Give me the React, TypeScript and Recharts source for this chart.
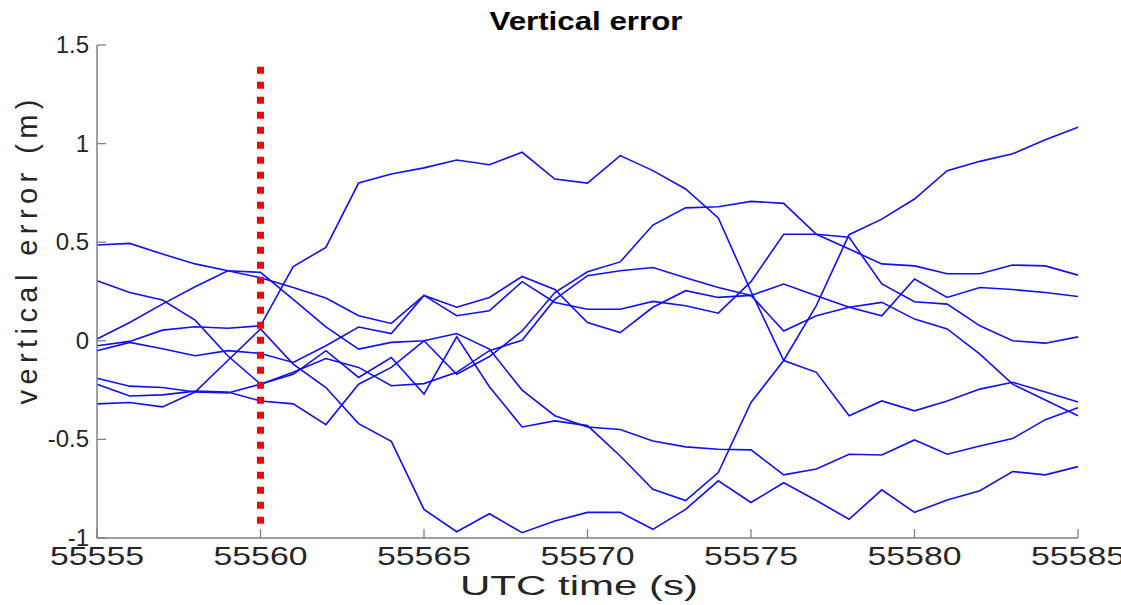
import React from 'react';
import { LineChart, Line, XAxis, YAxis, ReferenceLine } from 'recharts';

const times = [55555, 55556, 55557, 55558, 55559, 55560, 55561, 55562, 55563, 55564, 55565, 55566, 55567, 55568, 55569, 55570, 55571, 55572, 55573, 55574, 55575, 55576, 55577, 55578, 55579, 55580, 55581, 55582, 55583, 55584, 55585];

const s1 = [0.486, 0.494, 0.44, 0.39, 0.355, 0.32, 0.27, 0.217, 0.127, 0.088, 0.23, 0.17, 0.22, 0.326, 0.26, 0.093, 0.042, 0.17, 0.254, 0.22, 0.23, 0.05, 0.127, 0.17, 0.195, 0.11, 0.06, -0.068, -0.22, -0.3, -0.38];
const s2 = [0.305, 0.245, 0.207, 0.105, -0.076, -0.22, -0.17, -0.05, -0.186, -0.085, -0.27, 0.02, -0.233, -0.437, -0.406, -0.43, -0.584, -0.753, -0.81, -0.668, -0.313, -0.1, 0.18, 0.538, 0.617, 0.719, 0.863, 0.91, 0.948, 1.02, 1.083];
const s3 = [0.009, 0.093, 0.186, 0.274, 0.355, 0.347, 0.21, 0.071, -0.042, -0.008, 0.0, 0.037, -0.042, -0.25, -0.38, -0.437, -0.45, -0.508, -0.538, -0.55, -0.553, -0.68, -0.65, -0.575, -0.579, -0.503, -0.575, -0.533, -0.496, -0.4, -0.34];
const s4 = [-0.025, -0.003, 0.054, 0.071, 0.064, 0.076, 0.376, 0.474, 0.8, 0.846, 0.877, 0.917, 0.893, 0.956, 0.82, 0.8, 0.939, 0.863, 0.77, 0.623, 0.25, -0.1, -0.16, -0.38, -0.305, -0.355, -0.305, -0.245, -0.21, -0.26, -0.31];
const s5 = [-0.05, -0.008, -0.04, -0.076, -0.05, -0.064, -0.11, -0.025, 0.07, 0.037, 0.23, 0.127, 0.152, 0.3, 0.194, 0.16, 0.16, 0.2, 0.178, 0.14, 0.3, 0.54, 0.54, 0.525, 0.288, 0.198, 0.186, 0.076, 0.0, -0.012, 0.02];
const s6 = [-0.19, -0.23, -0.237, -0.26, -0.265, -0.22, -0.16, -0.09, -0.135, -0.228, -0.217, -0.16, -0.05, 0.003, 0.21, 0.33, 0.355, 0.372, 0.32, 0.27, 0.23, 0.288, 0.228, 0.17, 0.127, 0.313, 0.22, 0.27, 0.26, 0.245, 0.225];
const s7 = [-0.22, -0.28, -0.274, -0.255, -0.26, -0.305, -0.32, -0.425, -0.22, -0.135, 0.0, -0.17, -0.08, 0.05, 0.245, 0.35, 0.4, 0.587, 0.674, 0.68, 0.707, 0.697, 0.54, 0.465, 0.39, 0.38, 0.34, 0.34, 0.384, 0.38, 0.333];
const s8 = [-0.32, -0.313, -0.335, -0.26, -0.1, 0.06, -0.118, -0.237, -0.42, -0.51, -0.855, -0.968, -0.877, -0.973, -0.914, -0.87, -0.87, -0.956, -0.855, -0.71, -0.82, -0.72, -0.81, -0.905, -0.756, -0.87, -0.807, -0.76, -0.663, -0.68, -0.638];

const xTicks = [55555, 55560, 55565, 55570, 55575, 55580, 55585];
const xTickLabels = ['55555', '55560', '55565', '55570', '55575', '55580', '55585'];
const yTicks = [-1, -0.5, 0, 0.5, 1, 1.5];
const yTickLabels = ['-1', '-0.5', '0', '0.5', '1', '1.5'];

const markerTime = 55560;
const markerTop = 1.39;
const markerBottom = -0.94;

const titleText = 'Vertical error';
const xLabelText = 'UTC time (s)';
const yLabelText = 'vertical error (m)';

const seriesList = [s1, s2, s3, s4, s5, s6, s7, s8];
const data = times.map((t, i) => {
  const row: Record<string, number> = { t };
  seriesList.forEach((s, k) => {
    row['s' + k] = s[i];
  });
  return row;
});

const W = 1121;
const H = 605;
const PLOT_LEFT = 97;
const PLOT_RIGHT = 1078;
const PLOT_TOP = 45;
const PLOT_BOTTOM = 538;
const AXIS_W = 2;
const AXIS = '#808080';
const TEXT = '#262626';
const FONT = '"Liberation Sans", Arial, sans-serif';

const XTick = (props: any) => {
  const { x, payload } = props;
  const idx = xTicks.indexOf(payload.value);
  const label = idx >= 0 ? xTickLabels[idx] : String(payload.value);
  return (
    <g>
      <line x1={x} x2={x} y1={PLOT_BOTTOM} y2={PLOT_BOTTOM - 9} stroke={AXIS} strokeWidth={1.3} />
      <text x={x} y={565} textAnchor="middle" fontFamily={FONT} fontSize={25} fill={TEXT} textLength={94} lengthAdjust="spacingAndGlyphs">
        {label}
      </text>
    </g>
  );
};

const YTick = (props: any) => {
  const { y, payload } = props;
  const idx = yTicks.indexOf(payload.value);
  const label = idx >= 0 ? yTickLabels[idx] : String(payload.value);
  return (
    <g>
      <line x1={PLOT_LEFT} x2={PLOT_LEFT + 9} y1={y} y2={y} stroke={AXIS} strokeWidth={1.3} />
      <text x={89} y={y + 8} textAnchor="end" fontFamily={FONT} fontSize={24} fill={TEXT}>
        {label}
      </text>
    </g>
  );
};

export default function App() {
  return (
    <div style={{ position: 'absolute', left: 0, top: 0, width: W, height: H, background: '#fff' }}>
      <LineChart
        width={W}
        height={H}
        data={data}
        margin={{ top: PLOT_TOP, right: W - PLOT_RIGHT, bottom: H - PLOT_BOTTOM - AXIS_W, left: PLOT_LEFT - AXIS_W }}
      >
        <XAxis
          dataKey="t"
          type="number"
          domain={[55555, 55585]}
          ticks={xTicks}
          interval={0}
          height={AXIS_W}
          tick={<XTick />}
          tickLine={false}
          axisLine={{ stroke: AXIS, strokeWidth: 1.5 }}
        />
        <YAxis
          type="number"
          domain={[-1, 1.5]}
          ticks={yTicks}
          interval={0}
          width={AXIS_W}
          tick={<YTick />}
          tickLine={false}
          axisLine={{ stroke: AXIS, strokeWidth: 1.5 }}
        />
        {seriesList.map((_, k) => (
          <Line
            key={k}
            type="linear"
            dataKey={'s' + k}
            stroke="#1010f0"
            strokeWidth={1.6}
            dot={false}
            activeDot={false}
            isAnimationActive={false}
          />
        ))}
        <ReferenceLine
          segment={[
            { x: markerTime, y: markerTop },
            { x: markerTime, y: markerBottom },
          ]}
          stroke="#ff0000"
          strokeWidth={7}
          strokeDasharray="7 8"
        />
      </LineChart>
      <svg width={W} height={H} style={{ position: 'absolute', left: 0, top: 0, pointerEvents: 'none' }}>
        <text x={586} y={30} textAnchor="middle" fontFamily={FONT} fontWeight="bold" fontSize={26} fill="#000" textLength={193} lengthAdjust="spacingAndGlyphs">
          {titleText}
        </text>
        <text x={579} y={595} textAnchor="middle" fontFamily={FONT} fontSize={27} fill={TEXT} textLength={238} lengthAdjust="spacingAndGlyphs">
          {xLabelText}
        </text>
        <text transform="translate(37,252) rotate(-90)" textAnchor="middle" fontFamily={FONT} fontSize={29} fill={TEXT} textLength={305} lengthAdjust="spacing">
          {yLabelText}
        </text>
      </svg>
    </div>
  );
}
